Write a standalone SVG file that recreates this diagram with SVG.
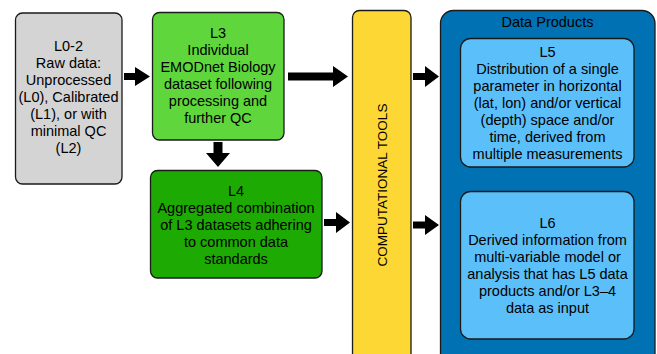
<svg xmlns="http://www.w3.org/2000/svg" width="657" height="354" viewBox="0 0 657 354">
<style>
.box{stroke:#1a1a1a;stroke-width:1.3}
.t{font-family:"Liberation Sans",Arial,Helvetica,sans-serif;font-size:14.5px;fill:#000;text-anchor:middle}
.arr{fill:#000}
</style>
<rect width="657" height="354" fill="#fff"/>
<g id="L0-2">
<rect class="box" x="15.5" y="13" width="106.5" height="171" rx="7" fill="#d4d4d4"/>
<text class="t" y="51"><tspan x="68.5">L0-2</tspan><tspan x="68.5" dy="17">Raw data:</tspan><tspan x="68.5" dy="17">Unprocessed</tspan><tspan x="68.5" dy="17">(L0), Calibrated</tspan><tspan x="68.5" dy="17">(L1), or with</tspan><tspan x="68.5" dy="17">minimal QC</tspan><tspan x="68.5" dy="17">(L2)</tspan></text>
</g>
<g id="L3">
<rect class="box" x="152.5" y="12.5" width="131.5" height="127.5" rx="7" fill="#5fd63b"/>
<text class="t" y="38"><tspan x="218">L3</tspan><tspan x="218" dy="17">Individual</tspan><tspan x="218" dy="17">EMODnet Biology</tspan><tspan x="218" dy="17">dataset following</tspan><tspan x="218" dy="17">processing and</tspan><tspan x="218" dy="17">further QC</tspan></text>
</g>
<g id="L4">
<rect class="box" x="150.5" y="170.5" width="171.5" height="107.5" rx="7" fill="#1daa02"/>
<text class="t" y="196"><tspan x="236">L4</tspan><tspan x="236" dy="17">Aggregated combination</tspan><tspan x="236" dy="17">of L3 datasets adhering</tspan><tspan x="236" dy="17">to common data</tspan><tspan x="236" dy="17">standards</tspan></text>
</g>
<g id="tools">
<rect class="box" x="352.5" y="10.5" width="58.5" height="360" rx="7" fill="#fdd733"/>
<text class="t" transform="translate(386.5,185) rotate(-90)" x="0" y="0" style="font-size:13.5px">COMPUTATIONAL TOOLS</text>
</g>
<g id="products">
<rect class="box" x="440.5" y="10.5" width="214.5" height="360" rx="13" fill="#0072b3"/>
<text class="t" x="547.5" y="27">Data Products</text>
</g>
<g id="L5">
<rect class="box" x="460.5" y="38.5" width="173.5" height="128.5" rx="10" fill="#5bbff9"/>
<text class="t" y="57"><tspan x="547.5">L5</tspan><tspan x="547.5" dy="17">Distribution of a single</tspan><tspan x="547.5" dy="17">parameter in horizontal</tspan><tspan x="547.5" dy="17">(lat, lon) and/or vertical</tspan><tspan x="547.5" dy="17">(depth) space and/or</tspan><tspan x="547.5" dy="17">time, derived from</tspan><tspan x="547.5" dy="17">multiple measurements</tspan></text>
</g>
<g id="L6">
<rect class="box" x="460.5" y="191.5" width="173.5" height="147.5" rx="10" fill="#5bbff9"/>
<text class="t" y="228"><tspan x="547.5">L6</tspan><tspan x="547.5" dy="17">Derived information from</tspan><tspan x="547.5" dy="17">multi-variable model or</tspan><tspan x="547.5" dy="17">analysis that has L5 data</tspan><tspan x="547.5" dy="17">products and/or L3–4</tspan><tspan x="547.5" dy="17">data as input</tspan></text>
</g>
<g id="connectors">
<polygon class="arr" points="124,73 135,73 135,67 150,76.5 135,86 135,80 124,80"/>
<polygon class="arr" points="213.5,142 222.5,142 222.5,153 230,153 218,167 206,153 213.5,153"/>
<polygon class="arr" points="288,72.5 333,72.5 333,66 348,76.5 333,87 333,80.5 288,80.5"/>
<polygon class="arr" points="413,73 425,73 425,66 439,76.5 425,87 425,80 413,80"/>
<polygon class="arr" points="324,219 336,219 336,212 350,222.5 336,233 336,226 324,226"/>
<polygon class="arr" points="413,221.5 425,221.5 425,215 439,225 425,235 425,228.5 413,228.5"/>
</g>
</svg>
